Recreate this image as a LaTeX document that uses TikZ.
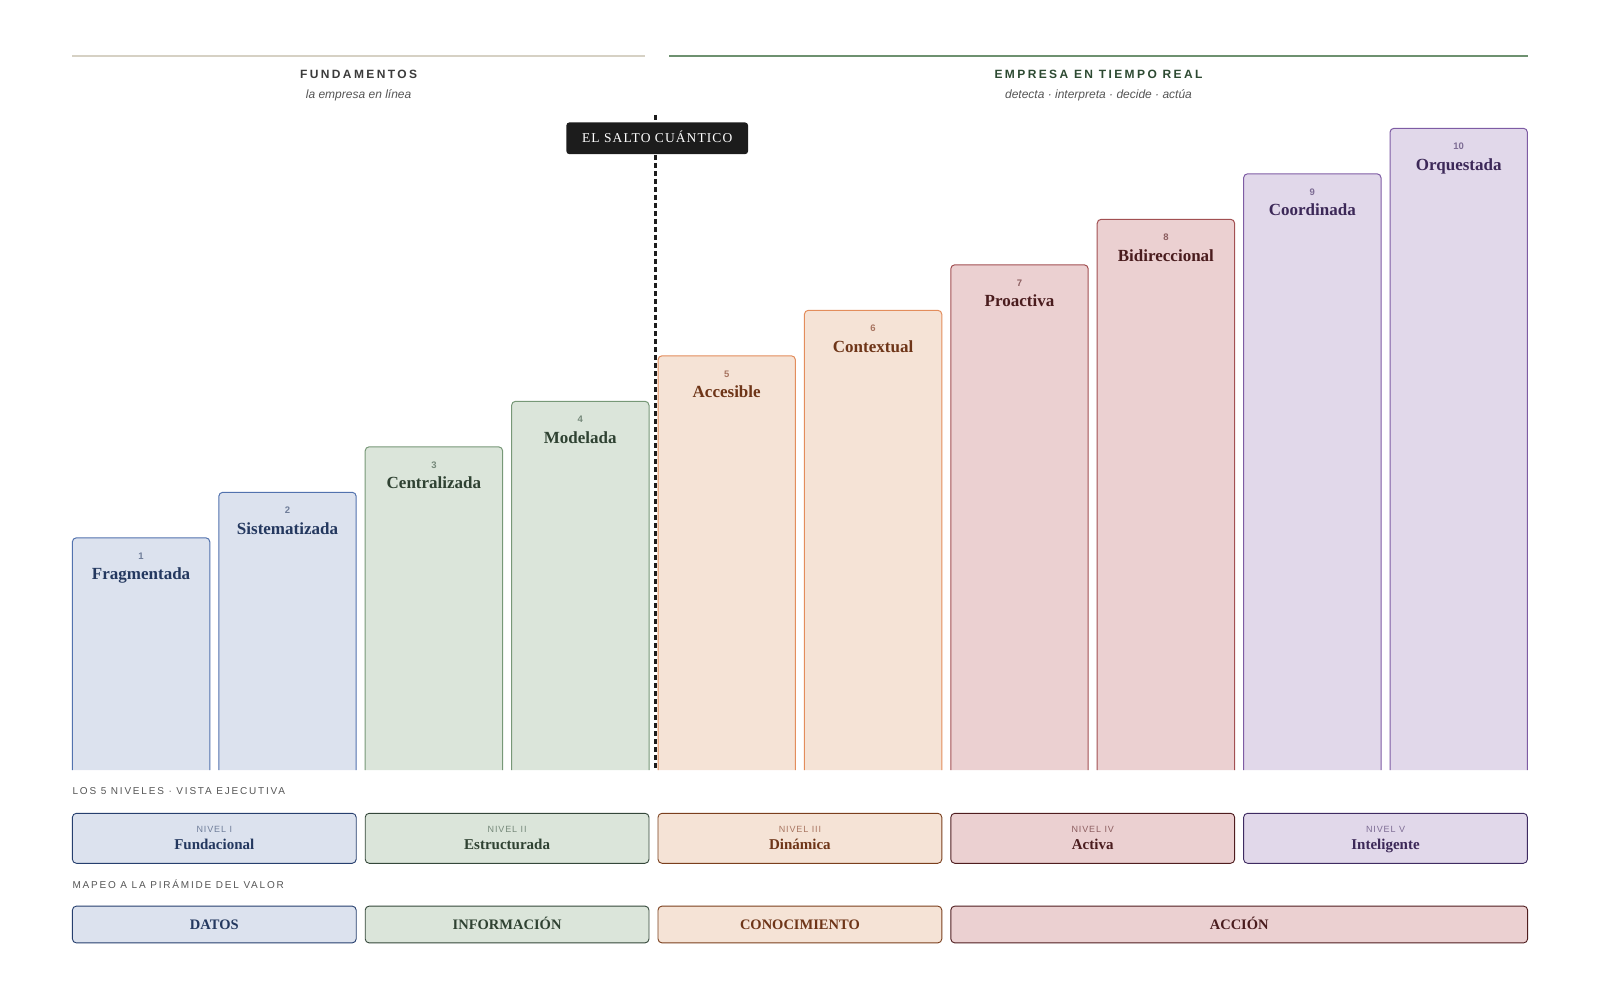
\documentclass[tikz,border=0pt]{standalone}
\usepackage{fontspec}
\setmainfont{Liberation Serif}
\setsansfont{Liberation Sans}
\newfontfamily\headfont[LetterSpace=20]{Liberation Sans}
\newfontfamily\labfont[LetterSpace=18]{Liberation Sans}
\newfontfamily\nivfont[LetterSpace=10]{Liberation Sans}
\newfontfamily\saltofont[LetterSpace=8]{Liberation Serif}
\definecolor{fillblu}{HTML}{DCE2EE}\definecolor{lineblu}{HTML}{5272AE}\definecolor{darkblu}{HTML}{263F6E}\definecolor{textblu}{HTML}{24385F}\definecolor{numblu}{HTML}{6F7D99}
\definecolor{fillgre}{HTML}{DBE5DA}\definecolor{linegre}{HTML}{779877}\definecolor{darkgre}{HTML}{34473A}\definecolor{textgre}{HTML}{2F4232}\definecolor{numgre}{HTML}{76897A}
\definecolor{fillora}{HTML}{F5E3D6}\definecolor{lineora}{HTML}{E38D5C}\definecolor{darkora}{HTML}{7B3F1D}\definecolor{textora}{HTML}{6E3518}\definecolor{numora}{HTML}{A87561}
\definecolor{fillred}{HTML}{EBD0D1}\definecolor{linered}{HTML}{A25052}\definecolor{darkred}{HTML}{4F1D1F}\definecolor{textred}{HTML}{4A1C1E}\definecolor{numred}{HTML}{8C5E60}
\definecolor{fillpur}{HTML}{E1D8EA}\definecolor{linepur}{HTML}{7E5CA4}\definecolor{darkpur}{HTML}{3E2B62}\definecolor{textpur}{HTML}{3C2858}\definecolor{numpur}{HTML}{7D6C94}
\definecolor{lineL}{HTML}{D6D1C4}\definecolor{lineR}{HTML}{6E9170}
\definecolor{headL}{HTML}{3B3B3B}\definecolor{headR}{HTML}{2D4A32}
\definecolor{subgrey}{HTML}{555555}\definecolor{saltobg}{HTML}{1C1C1C}
\tikzset{
  headstyle/.style={font=\headfont\bfseries\fontsize{12}{14}\selectfont, anchor=base, inner sep=0pt},
  substyle/.style={font=\sffamily\itshape\fontsize{12}{14}\selectfont, text=subgrey, anchor=base, inner sep=0pt},
  numstyle/.style={font=\sffamily\bfseries\fontsize{9.5}{11}\selectfont, anchor=base, inner sep=0pt},
  namestyle/.style={font=\bfseries\fontsize{17}{20}\selectfont, anchor=base, inner sep=0pt},
  seclabel/.style={font=\labfont\fontsize{10}{12}\selectfont, text=subgrey, anchor=base west, inner sep=0pt},
  lvbox/.style={rounded corners=4pt, line width=0.9pt, minimum height=50pt, inner sep=0pt},
  pybox/.style={rounded corners=4pt, line width=0.9pt, minimum height=36.8pt, inner sep=0pt,
     font=\bfseries\fontsize{14.5}{17}\selectfont, text height=9.6pt, text depth=0pt},
  nivstyle/.style={font=\nivfont\fontsize{9}{11}\selectfont, anchor=base, inner sep=0pt},
  lvname/.style={font=\bfseries\fontsize{15}{18}\selectfont, anchor=base, inner sep=0pt},
  dashline/.style={line width=2.5pt, color=saltobg, dash pattern=on 5pt off 3pt},
  saltobox/.style={fill=saltobg, rounded corners=3pt, minimum width=181.7pt, minimum height=31.7pt,
     text=white, font=\saltofont\fontsize{13.5}{16}\selectfont, text height=9pt, text depth=0pt, inner sep=0pt}
}
\begin{document}
\begin{tikzpicture}[x=1pt,y=-1pt]
\useasboundingbox (0,0) rectangle (1600,1000);
% header lines
\coordinate (hlA) at (72.4,56.5); \coordinate (hlB) at (644.9,56.5);
\coordinate (hrA) at (669.4,56.5); \coordinate (hrB) at (1527.6,56.5);
\draw[line width=2pt, lineL] (hlA) -- (hlB);
\draw[line width=2pt, lineR] (hrA) -- (hrB);
\node[headstyle, text=headL] (fund) at (358.6,78.8) {FUNDAMENTOS};
\node[substyle] (fundsub) at (358.6,98.8) {la empresa en línea};
\node[headstyle, text=headR] (emp) at (1098.5,78.8) {EMPRESA EN TIEMPO REAL};
\node[substyle] (empsub) at (1098.5,98.8) {detecta · interpreta · decide · actúa};
% bars
\foreach \i/\c/\nm in {1/blu/Fragmentada,2/blu/Sistematizada,3/gre/Centralizada,4/gre/Modelada,5/ora/Accesible,6/ora/Contextual,7/red/Proactiva,8/red/Bidireccional,9/pur/Coordinada,10/pur/Orquestada}{
  \pgfmathsetmacro\L{72.4+(\i-1)*146.4}
  \pgfmathsetmacro\R{\L+137.4}
  \pgfmathsetmacro\T{128.3+(10-\i)*45.5}
  \pgfmathsetmacro\M{\L+68.7}
  \path[fill=fill\c, draw=line\c, line width=1pt, rounded corners=4pt] (\L,770) -- (\L,\T) -- (\R,\T) -- (\R,770);
  \node[numstyle, text=num\c] (num\i) at (\M,\T+21.5) {\i};
  \node[namestyle, text=text\c] (bar\i) at (\M,\T+42) {\nm};
}
% quantum leap line
\coordinate (dtop) at (655.5,115);
\coordinate (dbot) at (655.5,770);
\draw[dashline] (dtop) -- (dbot);
\node[saltobox] (salto) at (657.2,138.3) {EL SALTO CUÁNTICO};
% section labels
\node[seclabel] (sec1) at (72.4,794.5) {LOS 5 NIVELES · VISTA EJECUTIVA};
\node[seclabel] (sec2) at (72.4,888.4) {MAPEO A LA PIRÁMIDE DEL VALOR};
% level boxes
\foreach \k/\c/\lv/\nm in {1/blu/I/Fundacional,2/gre/II/Estructurada,3/ora/III/Dinámica,4/red/IV/Activa,5/pur/V/Inteligente}{
  \pgfmathsetmacro\L{72.4+(2*\k-2)*146.4}
  \pgfmathsetmacro\M{\L+141.9}
  \node[lvbox, fill=fill\c, draw=dark\c, minimum width=283.8pt] (lv\k) at (\M,838.3) {};
  \node[nivstyle, text=num\c] (niv\k) at (\M,832) {NIVEL \lv};
  \node[lvname, text=text\c] (lvn\k) at (\M,849) {\nm};
}
% pyramid
\node[pybox, fill=fillblu, draw=darkblu, text=textblu, minimum width=283.8pt] (p1) at (214.3,924.5) {DATOS};
\node[pybox, fill=fillgre, draw=darkgre, text=textgre, minimum width=283.8pt] (p2) at (507.1,924.5) {INFORMACIÓN};
\node[pybox, fill=fillora, draw=darkora, text=textora, minimum width=283.8pt] (p3) at (799.9,924.5) {CONOCIMIENTO};
\node[pybox, fill=fillred, draw=darkred, text=textred, minimum width=576.8pt] (p4) at (1239.2,924.5) {ACCIÓN};
\end{tikzpicture}
\end{document}
